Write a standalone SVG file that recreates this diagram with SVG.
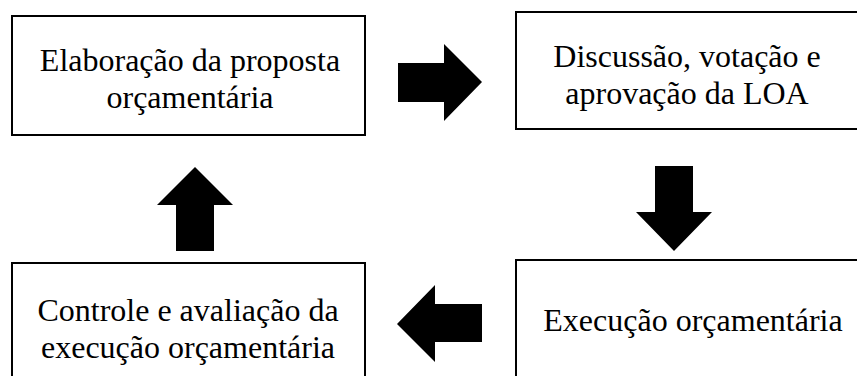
<svg xmlns="http://www.w3.org/2000/svg" width="857" height="376" viewBox="0 0 857 376">
<style>
.box{fill:#fff;stroke:#000;stroke-width:2}
.t{font-family:'Liberation Serif','Times New Roman','DejaVu Serif',serif;font-size:32px;fill:#000;text-anchor:middle}
.arr{fill:#000;stroke:none}
</style>
<rect width="857" height="376" fill="#fff"/>
<g id="n1">
<rect class="box" x="12" y="16" width="353" height="119"/>
<text class="t" x="190" y="71">Elaboração da proposta</text>
<text class="t" x="190" y="108">orçamentária</text>
</g>
<g id="n2">
<rect class="box" x="516" y="12" width="344" height="117"/>
<text class="t" x="687" y="67">Discussão, votação e</text>
<text class="t" x="687" y="104">aprovação da LOA</text>
</g>
<g id="n3">
<rect class="box" x="516" y="260" width="360" height="130"/>
<text class="t" x="693" y="331">Execução orçamentária</text>
</g>
<g id="n4">
<rect class="box" x="12" y="263" width="353" height="130"/>
<text class="t" x="188" y="321">Controle e avaliação da</text>
<text class="t" x="188" y="358">execução orçamentária</text>
</g>
<g id="connectors">
<polygon class="arr" points="398,63 444,63 444,44 482,82 444,121 444,102 398,102"/>
<polygon class="arr" points="655,166 693,166 693,212 712,212 674,251 636,212 655,212"/>
<polygon class="arr" points="482,304 435,304 435,285 397,324 435,362 435,342 482,342"/>
<polygon class="arr" points="176,251 176,205 157,205 195,167 233,205 214,205 214,251"/>
</g>
</svg>
